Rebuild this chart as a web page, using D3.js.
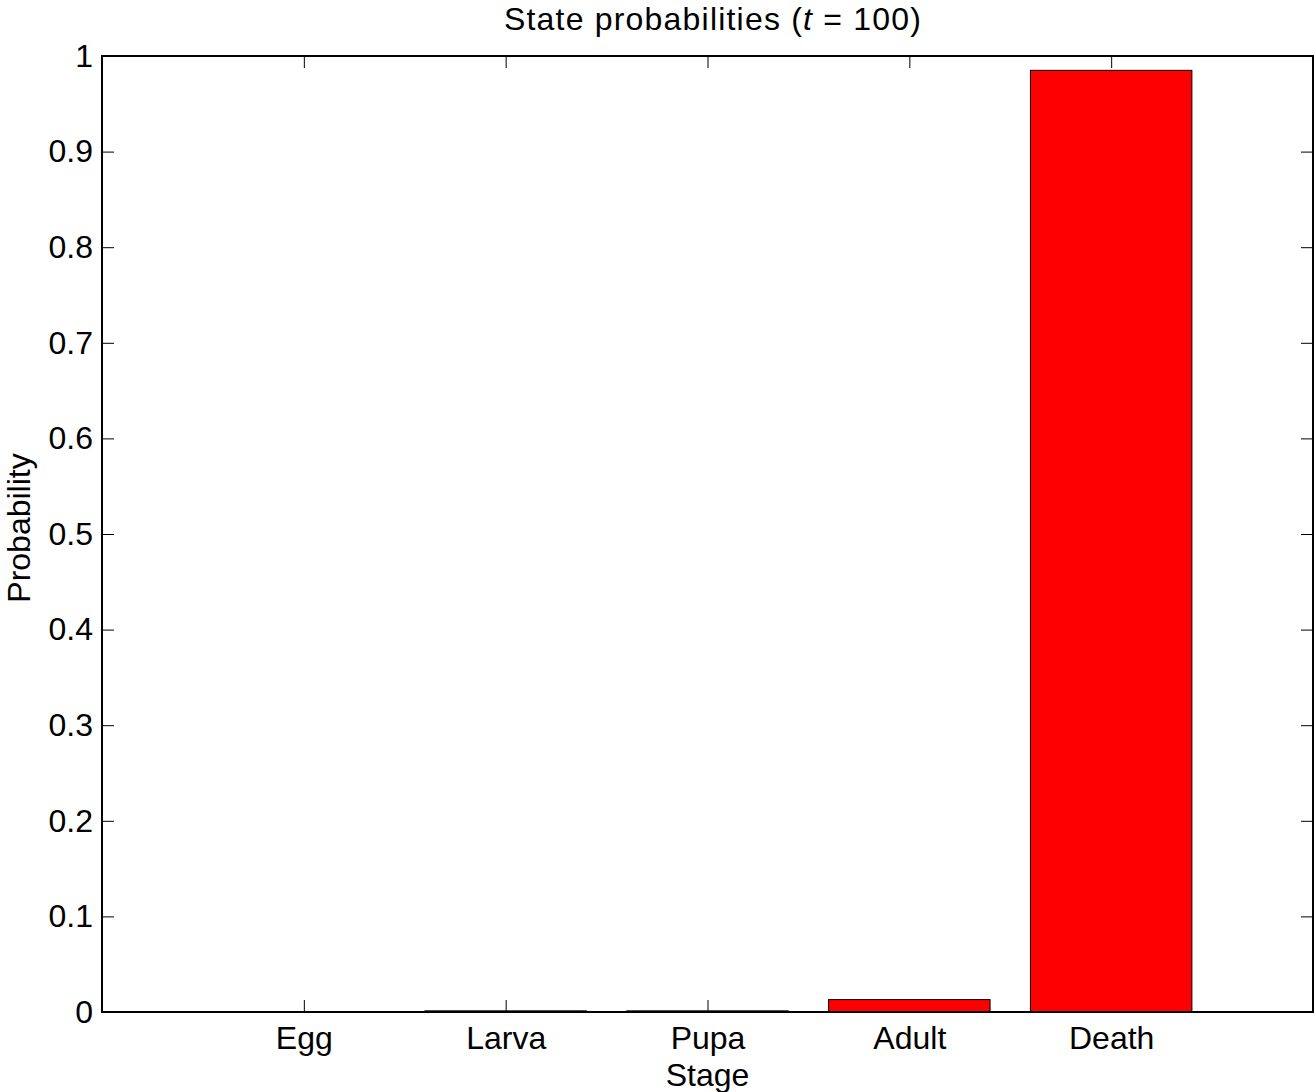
<!DOCTYPE html>
<html>
<head>
<meta charset="utf-8">
<script src="https://cdn.jsdelivr.net/npm/d3@7"></script>
<style>
  body { margin: 0; background: #fff; }
  text { font-family: "Liberation Sans", Arial, Helvetica, sans-serif; fill: #000; }
</style>
</head>
<body>
<script>
'use strict';

// stage names and their probabilities at t = 100
const stages = ['Egg', 'Larva', 'Pupa', 'Adult', 'Death'];
const probs = [0, 0.0012, 0.0012, 0.013, 0.985];
const yTicks = [0, 0.1, 0.2, 0.3, 0.4, 0.5, 0.6, 0.7, 0.8, 0.9, 1];

(function() {

  const width = 1314, height = 1092;
  const plotLeft = 102, plotRight = 1313, plotTop = 56, plotBottom = 1012;
  const tickLen = 12;
  const fontSize = '32px';

  const svg = d3.select('body')
    .append('svg')
    .attr('width', width)
    .attr('height', height);

  // x runs 0..6 with stages at 1..5, like matlab's bar()
  const xScale = d3.scaleLinear()
    .domain([0, 6])
    .range([plotLeft, plotRight]);

  const yScale = d3.scaleLinear()
    .domain([0, 1])
    .range([plotBottom, plotTop]);

  const barW = (xScale(1) - xScale(0)) * 0.8;

  // y axis, left side with inward ticks
  const yAxis = d3.axisLeft(yScale)
    .tickValues(yTicks)
    .tickSizeInner(-tickLen)
    .tickSizeOuter(0)
    .tickPadding(9)
    .tickFormat(d => String(+d.toFixed(1)));
  svg.append('g')
    .attr('transform', `translate(${plotLeft},0)`)
    .call(yAxis);

  // y ticks on the right side
  svg.append('g')
    .attr('transform', `translate(${plotRight},0)`)
    .call(d3.axisRight(yScale).tickValues(yTicks).tickSizeInner(-tickLen).tickSizeOuter(0).tickFormat(''));

  // x axis bottom
  const xAxis = d3.axisBottom(xScale)
    .tickValues([1, 2, 3, 4, 5])
    .tickSizeInner(-tickLen)
    .tickSizeOuter(0)
    .tickPadding(14)
    .tickFormat(d => stages[d - 1]);
  svg.append('g')
    .attr('transform', `translate(0,${plotBottom})`)
    .call(xAxis);

  // x ticks on top
  svg.append('g')
    .attr('transform', `translate(0,${plotTop})`)
    .call(d3.axisTop(xScale).tickValues([1, 2, 3, 4, 5]).tickSizeInner(-tickLen).tickSizeOuter(0).tickFormat(''));

  svg.selectAll('.domain').remove();
  svg.selectAll('.tick line').attr('stroke', '#000').attr('stroke-width', 1);
  svg.selectAll('.tick text')
    .style('font-size', fontSize)
    .attr('fill', '#000');

  // bars, drawn over the tick marks
  svg.selectAll('.bar')
    .data(probs)
    .enter()
    .append('rect')
      .attr('class', 'bar')
      .attr('x', (d, i) => xScale(i + 1) - barW / 2)
      .attr('y', d => yScale(d))
      .attr('width', barW)
      .attr('height', d => yScale(0) - yScale(d))
      .attr('fill', '#ff0000')
      .attr('stroke', '#000')
      .attr('stroke-width', 1);

  // axes box
  svg.append('rect')
    .attr('x', plotLeft)
    .attr('y', plotTop)
    .attr('width', plotRight - plotLeft)
    .attr('height', plotBottom - plotTop)
    .attr('fill', 'none')
    .attr('stroke', '#000')
    .attr('stroke-width', 2);

  // title
  const title = svg.append('text')
    .attr('x', 713)
    .attr('y', 30)
    .attr('text-anchor', 'middle')
    .style('font-size', fontSize)
    .style('letter-spacing', '1.2px');
  title.append('tspan').text('State probabilities (');
  title.append('tspan').style('font-style', 'italic').text('t');
  title.append('tspan').text(' = 100)');

  // axis labels
  svg.append('text')
    .attr('x', (plotLeft + plotRight) / 2)
    .attr('y', 1086)
    .attr('text-anchor', 'middle')
    .style('font-size', fontSize)
    .text('Stage');

  svg.append('text')
    .attr('transform', 'translate(30, 528)rotate(-90)')
    .attr('text-anchor', 'middle')
    .style('font-size', fontSize)
    .text('Probability');
})();
</script>
</body>
</html>
